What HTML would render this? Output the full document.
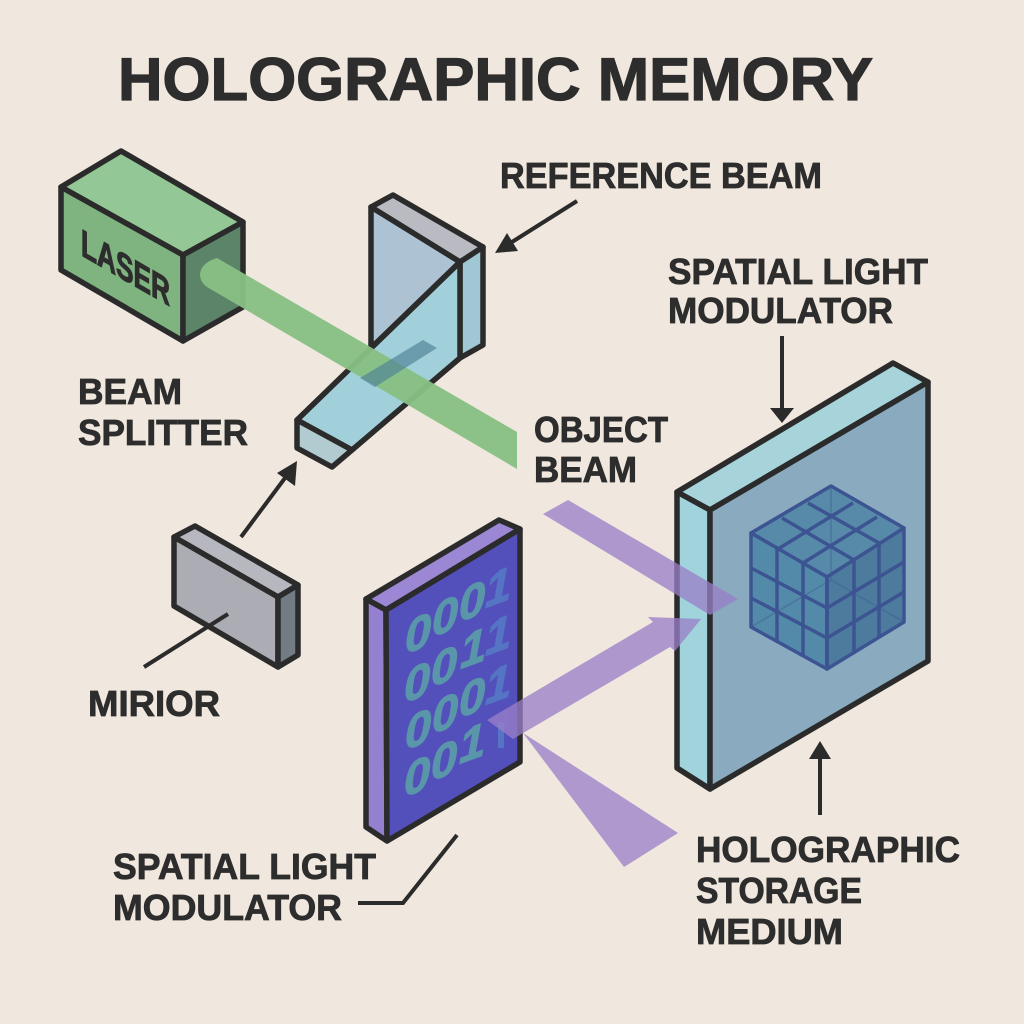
<!DOCTYPE html>
<html><head><meta charset="utf-8"><style>
html,body{margin:0;padding:0;background:#f0e7de}
svg{display:block}
text{font-family:"Liberation Sans",sans-serif;font-weight:bold;fill:#2d2d2d}
.l text{stroke:#2d2d2d;stroke-width:.8px}
.d text{fill:#5a96a9;stroke:#5a96a9;stroke-width:1px;font-size:47px;font-style:italic}
.d text.b{fill:#5574c4;stroke:#5574c4}
</style></head><body>
<svg width="1024" height="1024" viewBox="0 0 1024 1024" xmlns="http://www.w3.org/2000/svg">
<rect width="1024" height="1024" fill="#f0e7de"/>
<!-- Title -->
<text x="118" y="100" font-size="60" textLength="755" lengthAdjust="spacingAndGlyphs" style="stroke:#2d2d2d;stroke-width:1.2px">HOLOGRAPHIC MEMORY</text>

<!-- Laser -->
<g stroke="#2b2b2b" stroke-width="5.5" stroke-linejoin="round">
<polygon points="121,151 243,222 183,255 61,187" fill="#93c795"/>
<polygon points="61,187 183,255 183,341 61,270" fill="#7fb37f"/>
<polygon points="183,255 243,222 243,307 183,341" fill="#5c8468"/>
</g>
<text transform="translate(81,255) skewY(30)" font-size="38" textLength="89" lengthAdjust="spacingAndGlyphs" style="stroke:#2d2d2d;stroke-width:1.2px">LASER</text>

<!-- Splitter -->
<g stroke="#2b2b2b" stroke-width="5.5" stroke-linejoin="round">
<polygon points="371,207 393,195 483,247 460,262" fill="#b9bac2"/>
<polygon points="371,207 460,262 371,348" fill="#adc2d3"/>
<polygon points="460,262 483,247 483,345 460,358" fill="#a0c7d3"/>
<polygon points="460,262 460,358 352,450 297,420" fill="#a2d0da"/>
<polygon points="297,420 352,450 332,467 297,448" fill="#b2cbd0"/>
</g>

<!-- Green beam -->
<path d="M217,258 L517,432 L517,469 L207,287 Q200,282 200,274 Q201,263 217,258 Z" fill="#87bf83" opacity=".96"/>
<polygon points="423,340 437,348 375,387 360,378" fill="#4f7f95" opacity=".65"/>

<!-- Mirror -->
<g stroke="#2b2b2b" stroke-width="5.5" stroke-linejoin="round">
<polygon points="174,537 195,526 298,585 278,597" fill="#b7b8bf"/>
<polygon points="174,537 278,597 278,667 174,606" fill="#acadb4"/>
<polygon points="278,597 298,585 298,655 278,667" fill="#737c84"/>
</g>

<!-- SLM left -->
<g stroke="#2b2b2b" stroke-width="5.5" stroke-linejoin="round">
<polygon points="366,599 499,520 520,529 386,610" fill="#9b87d4"/>
<polygon points="366,599 386,610 387,841 366,827" fill="#9580cf"/>
<polygon points="386,610 520,529 520,762 387,841" fill="#5450bb"/>
</g>
<g class="d">
<text transform="translate(405,654) skewY(-20)">0</text>
<text transform="translate(432,637) skewY(-20)">0</text>
<text transform="translate(459,622) skewY(-20)">0</text>
<text class="b" transform="translate(485,608) skewY(-20)">1</text>
<text transform="translate(404,703) skewY(-20)">0</text>
<text transform="translate(431,687) skewY(-20)">0</text>
<text transform="translate(460,669) skewY(-20)">1</text>
<text class="b" transform="translate(485,656) skewY(-20)">1</text>
<text transform="translate(405,750) skewY(-20)">0</text>
<text transform="translate(432,734) skewY(-20)">0</text>
<text transform="translate(459,718) skewY(-20)">0</text>
<text class="b" transform="translate(485,705) skewY(-20)">1</text>
<text transform="translate(404,797) skewY(-20)">0</text>
<text transform="translate(431,781) skewY(-20)">0</text>
<text transform="translate(459,764) skewY(-20)">1</text>
</g>
<rect x="498" y="722" width="6" height="26" fill="#5574c4"/>

<!-- Medium -->
<g stroke="#2b2b2b" stroke-width="5.5" stroke-linejoin="round">
<polygon points="677,492 893,363 928,382 710,510" fill="#a7d4da"/>
<polygon points="677,492 710,510 710,789 677,768" fill="#a0d3dc"/>
<polygon points="710,510 928,382 928,661 710,789" fill="#89aabf"/>
</g>

<!-- Cube -->
<g stroke="#3c5492" stroke-width="3.5" stroke-linejoin="round" fill="none">
<polygon points="831,486 904,528 827,577 751,533" fill="#578aa8"/>
<polygon points="751,533 827,577 827,669 751,627" fill="#548aa9"/>
<polygon points="827,577 904,528 904,622 827,669" fill="#4c7b9d"/>
<line x1="782" y1="518" x2="854" y2="560"/>
<line x1="808" y1="503" x2="879" y2="543"/>
<line x1="778" y1="549" x2="853" y2="503"/>
<line x1="803" y1="563" x2="877" y2="517"/>
<line x1="777" y1="549" x2="777" y2="642"/>
<line x1="803" y1="563" x2="803" y2="655"/>
<line x1="854" y1="560" x2="854" y2="653"/>
<line x1="879" y1="543" x2="879" y2="637"/>
<line x1="751" y1="568" x2="827" y2="608"/>
<line x1="751" y1="598" x2="827" y2="638"/>
<line x1="827" y1="608" x2="904" y2="562"/>
<line x1="827" y1="638" x2="904" y2="592"/>
<g stroke-width="1.5" opacity=".4">
<line x1="831" y1="486" x2="831" y2="580"/>
<line x1="831" y1="580" x2="751" y2="627"/>
<line x1="831" y1="580" x2="904" y2="622"/>
</g>
<line x1="827" y1="577" x2="827" y2="669" stroke-width="4"/>
</g>

<!-- Purple beams -->
<g fill="#9a7fc8" opacity=".76">
<polygon points="543,514 568,500 738,599 710,615"/>
<polygon points="487,720 653,622 648,617 701,619 675,651 670,647 513,739"/>
<polygon points="523,733 678,833 624,867"/>
</g>

<!-- Arrows & leader lines -->
<g stroke="#2b2b2b" stroke-width="4" fill="none">
<line x1="241" y1="537" x2="285" y2="478"/>
<line x1="577" y1="201" x2="512" y2="242"/>
<line x1="782" y1="336" x2="782" y2="410"/>
<line x1="820" y1="815" x2="820" y2="755"/>
<line x1="144" y1="667" x2="228" y2="614"/>
<polyline points="358,903 403,903 457,835"/>
</g>
<g fill="#2b2b2b">
<polygon points="297,461 277,473 295,486"/>
<polygon points="495,253 518,251 507,233"/>
<polygon points="782,423 770,408 794,408"/>
<polygon points="820,741 809,759 831,759"/>
</g>

<!-- Labels -->
<g class="l">
<text x="500" y="188" font-size="36" textLength="322" lengthAdjust="spacingAndGlyphs">REFERENCE BEAM</text>
<text x="668" y="284" font-size="36" textLength="260" lengthAdjust="spacingAndGlyphs">SPATIAL LIGHT</text>
<text x="668" y="323" font-size="36" textLength="225" lengthAdjust="spacingAndGlyphs">MODULATOR</text>
<text x="534" y="442" font-size="36" textLength="134" lengthAdjust="spacingAndGlyphs">OBJECT</text>
<text x="534" y="482" font-size="36" textLength="103" lengthAdjust="spacingAndGlyphs">BEAM</text>
<text x="78" y="404" font-size="36" textLength="104" lengthAdjust="spacingAndGlyphs">BEAM</text>
<text x="78" y="445" font-size="36" textLength="170" lengthAdjust="spacingAndGlyphs">SPLITTER</text>
<text x="88" y="716" font-size="36" textLength="132" lengthAdjust="spacingAndGlyphs">MIRIOR</text>
<text x="113" y="879" font-size="36" textLength="263" lengthAdjust="spacingAndGlyphs">SPATIAL LIGHT</text>
<text x="113" y="920" font-size="36" textLength="229" lengthAdjust="spacingAndGlyphs">MODULATOR</text>
<text x="696" y="862" font-size="36" textLength="264" lengthAdjust="spacingAndGlyphs">HOLOGRAPHIC</text>
<text x="696" y="903" font-size="36" textLength="166" lengthAdjust="spacingAndGlyphs">STORAGE</text>
<text x="696" y="944" font-size="36" textLength="147" lengthAdjust="spacingAndGlyphs">MEDIUM</text>
</g>
</svg>
</body></html>
